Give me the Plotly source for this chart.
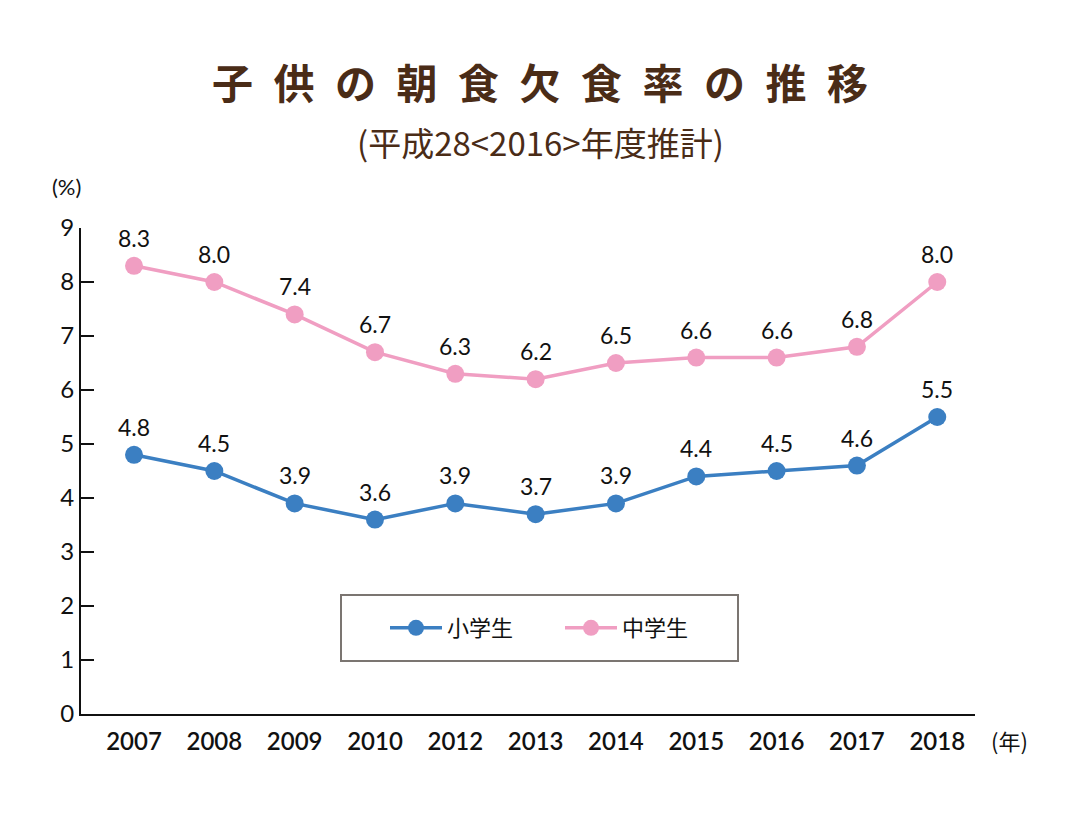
import plotly.graph_objects as go

years = ["2007", "2008", "2009", "2010", "2012", "2013", "2014", "2015", "2016", "2017", "2018"]
elementary = [4.8, 4.5, 3.9, 3.6, 3.9, 3.7, 3.9, 4.4, 4.5, 4.6, 5.5]
junior_high = [8.3, 8.0, 7.4, 6.7, 6.3, 6.2, 6.5, 6.6, 6.6, 6.8, 8.0]
series_names = ["小学生", "中学生"]
y_ticks = [0, 1, 2, 3, 4, 5, 6, 7, 8, 9]

BLUE = "#3b7fc2"
PINK = "#f09ec2"
BROWN = "#4a2c17"

xi = list(range(len(years)))

# page body has an 8px margin; plot area should sit at x 81..975, y 228..714 on screen
L, T = 81 - 8, 228 - 8
R = 1080 - (975 - 8)
B = 820 - (714 - 8)
PW, PH = 894, 486


def px(x):
    return (x - 81) / PW


def py(y):
    return (714 - y) / PH


fig = go.Figure()
for name, vals, col in [(series_names[0], elementary, BLUE), (series_names[1], junior_high, PINK)]:
    fig.add_trace(go.Scatter(
        x=xi, y=vals, name=name, mode="lines+markers",
        line=dict(color=col, width=3.5),
        marker=dict(color=col, size=18),
    ))

annotations = []
for vals in (elementary, junior_high):
    for x, v in zip(xi, vals):
        annotations.append(dict(
            x=x, y=v, xref="x", yref="y", text=f"{v:.1f}", showarrow=False,
            yshift=28, font=dict(family="Lato", size=23, color="#111111"),
        ))

title_text = "\u2002".join("子供の朝食欠食率の推移")
annotations += [
    dict(text=title_text, xref="paper", yref="paper", x=px(540), y=py(81),
         xanchor="center", yanchor="middle", showarrow=False,
         font=dict(family="Noto Sans CJK JP", size=41, color=BROWN, weight="bold")),
    dict(text="(平成28&lt;2016&gt;年度推計)", xref="paper", yref="paper", x=px(540), y=py(142),
         xanchor="center", yanchor="middle", showarrow=False,
         font=dict(family="Noto Sans CJK JP", size=33, color=BROWN)),
    dict(text="(%)", xref="paper", yref="paper", x=px(66), y=py(186),
         xanchor="center", yanchor="middle", showarrow=False,
         font=dict(family="Lato", size=22, color="#111111")),
    dict(text="(年)", xref="paper", yref="paper", x=px(1010), y=py(740),
         xanchor="center", yanchor="middle", showarrow=False,
         font=dict(family="Noto Sans CJK JP", size=22, color="#111111")),
]

fig.update_layout(
    width=1080, height=820,
    margin=dict(l=L, r=R, t=T, b=B),
    paper_bgcolor="white", plot_bgcolor="white",
    showlegend=True,
    legend=dict(
        orientation="h", x=px(385), y=py(628), xanchor="left", yanchor="middle",
        bgcolor="rgba(0,0,0,0)", entrywidth=108, entrywidthmode="pixels", itemwidth=52,
        font=dict(family="Noto Sans CJK JP", size=22, color="#111111"),
    ),
    annotations=annotations,
    shapes=[dict(type="rect", xref="paper", yref="paper",
                 x0=px(341), x1=px(738), y0=py(661), y1=py(595),
                 line=dict(color="#7b7571", width=2), fillcolor="rgba(0,0,0,0)")],
    xaxis=dict(
        range=[-0.66, 10.47], tickmode="array", tickvals=xi, ticktext=years,
        showgrid=False, zeroline=False, showline=True, linecolor="#111111", linewidth=2,
        ticks="", ticklabelstandoff=5,
        tickfont=dict(family="Lato", size=24, color="#111111", weight=600),
    ),
    yaxis=dict(
        range=[0, 9], tickmode="array", tickvals=y_ticks,
        showgrid=False, zeroline=False, showline=True, linecolor="#111111", linewidth=2,
        ticks="inside", ticklen=13, tickwidth=2, tickcolor="#111111",
        tickfont=dict(family="Lato", size=24, color="#111111"),
    ),
)

fig.write_html("out.html")
